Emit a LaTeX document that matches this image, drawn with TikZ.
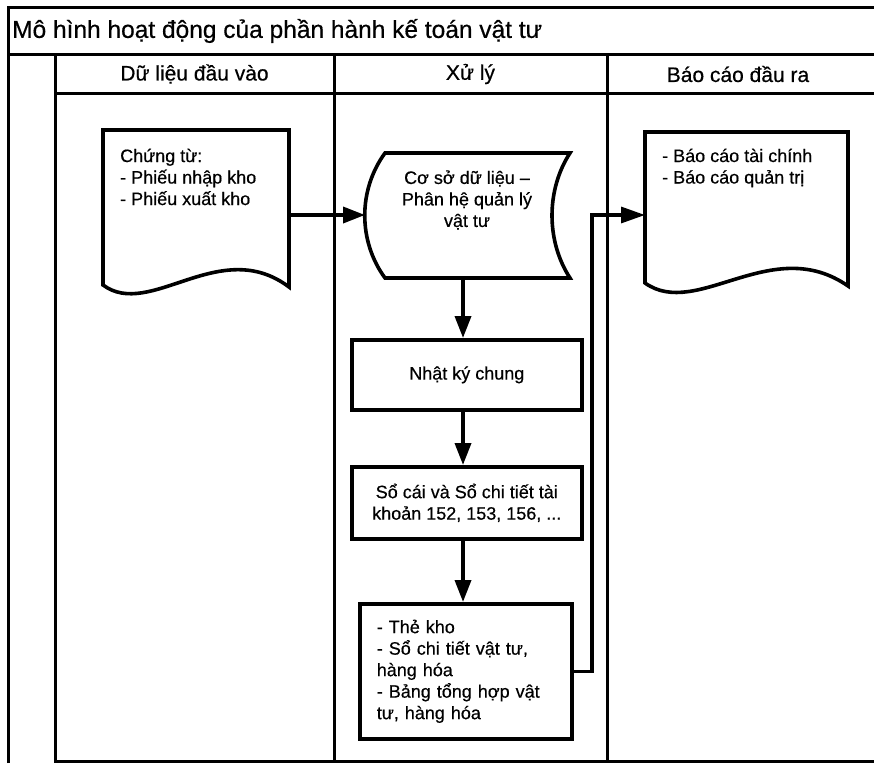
\documentclass[tikz,border=0pt]{standalone}
\usepackage{fontspec}
\setmainfont{Liberation Sans}[FakeBold=0.5]
\usetikzlibrary{arrows.meta}
\begin{document}
\begin{tikzpicture}[x=1pt,y=-1pt,
  frame/.style={line width=3pt},
  outline/.style={line width=3.6pt, line join=miter},
  flow/.style={line width=3.6pt, -{Triangle[length=22pt,width=16pt]}},
  link/.style={line width=3.2pt, -{Triangle[length=24pt,width=16pt]}},
  body/.style={font=\fontsize{18}{21.5}\selectfont, inner sep=0pt},
  lanehead/.style={font=\fontsize{21}{24}\selectfont, inner sep=0pt},
  procbox/.style={draw, line width=3.6pt, anchor=north west, body},
]
\useasboundingbox (0,0) rectangle (874,763);

% pool frame
\draw[frame] (8,763) -- (8,7) -- (874,7);
\draw[frame] (8,54) -- (874,54);
\draw[frame] (55,93) -- (874,93);
\draw[frame] (55,54) -- (55,763);
\draw[frame] (334,54) -- (334,761);
\draw[frame] (607,54) -- (607,761);
\draw[frame] (55,761) -- (874,761);

% titles
\node[anchor=west, inner sep=0pt, font=\fontsize{24.5}{28}\selectfont] (title) at (12,31)
  {Mô hình hoạt động của phần hành kế toán vật tư};
\node[lanehead] (laneA) at (194.5,74) {Dữ liệu đầu vào};
\node[lanehead] (laneB) at (470.5,74) {Xử lý};
\node[lanehead] (laneC) at (738,74) {Báo cáo đầu ra};

% input document
\draw[outline] (103,130) -- (289,130) -- (289,287)
  .. controls (220,235) and (150,320) .. (103,285) -- cycle;
\node[body, align=left, anchor=west] (inputtext) at (120,177)
  {Chứng từ:\\- Phiếu nhập kho\\- Phiếu xuất kho};
\coordinate (inOut) at (289,215);

% stored data
\draw[outline] (385,153) -- (570,153)
  .. controls (546,190) and (546,241) .. (570,278) -- (385,278)
  .. controls (358,241) and (358,190) .. (385,153) -- cycle;
\node[body, align=center] (db) at (467,200)
  {Cơ sở dữ liệu –\\Phân hệ quản lý\\vật tư};
\coordinate (dbIn) at (365,215);
\coordinate (dbOut) at (463,278);

% processing boxes
\node[procbox, minimum width=230pt, minimum height=70pt, align=center] (nk) at (350,338)
  {Nhật ký chung};
\node[procbox, minimum width=230pt, minimum height=72pt, align=center] (sc) at (350,465)
  {Sổ cái và Sổ chi tiết tài\\khoản 152, 153, 156, ...};
\node[procbox, minimum height=135pt, text width=178pt, inner xsep=17pt, align=left] (bk) at (358,602)
  {- Thẻ kho\\- Sổ chi tiết vật tư,\\hàng hóa\\- Bảng tổng hợp vật\\tư, hàng hóa};

% output document
\draw[outline] (645,132) -- (848,132) -- (848,286)
  .. controls (772,233) and (697,320) .. (645,283) -- cycle;
\node[body, align=left, anchor=west] (reporttext) at (662,168)
  {- Báo cáo tài chính\\- Báo cáo quản trị};
\coordinate (rpIn) at (645,215);
\coordinate (bend) at (592,215);

% flow
\draw[flow] (inOut) -- (dbIn);
\draw[flow] (dbOut) -- (nk.north -| dbOut);
\draw[flow] (nk.south -| dbOut) -- (sc.north -| dbOut);
\draw[flow] (sc.south -| dbOut) -- (bk.north -| dbOut);
\draw[link] (bk.east) -| (bend) -- (rpIn);
\end{tikzpicture}
\end{document}
